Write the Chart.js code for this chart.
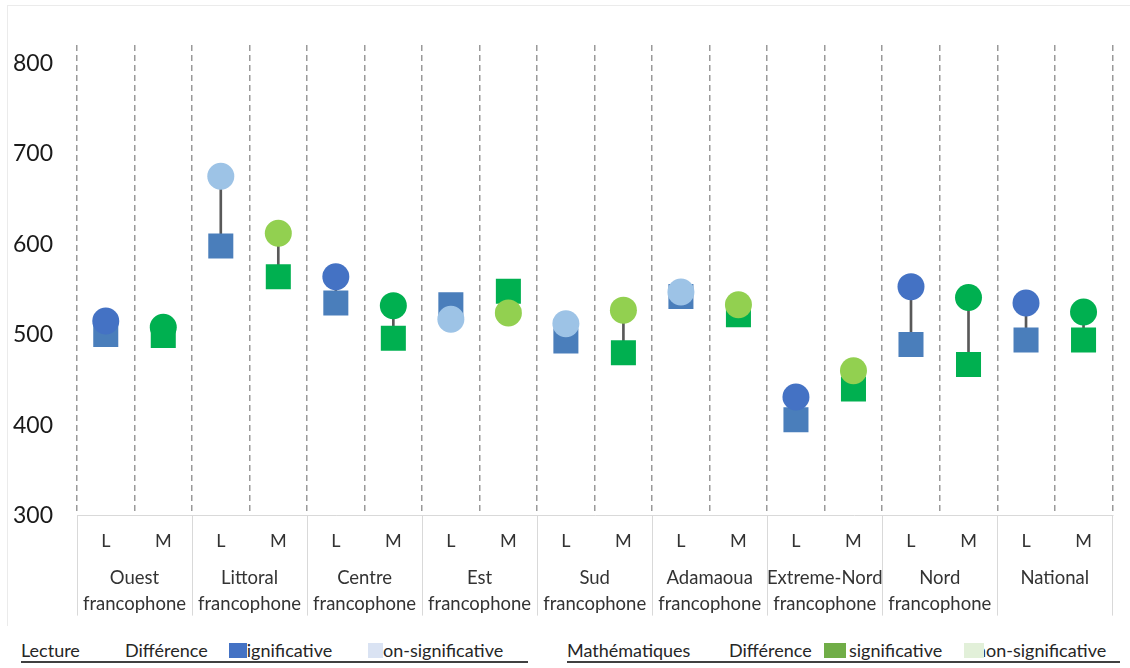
<!DOCTYPE html>
<html>
<head>
<meta charset="utf-8">
<script src="https://cdn.jsdelivr.net/npm/chart.js@4"></script>
<style>
body { margin: 0; background: #fff; font-family: Lato, "Open Sans", sans-serif; }
#cadre { position: absolute; left: 7px; top: 5px; width: 1130px; height: 620px; border-left: 1px solid #ebebeb; border-top: 1px solid #ebebeb; }
#zone { position: absolute; left: 0; top: 0; width: 1130px; height: 630px; }
.leg { position: absolute; top: 640px; height: 21px; border-bottom: 2px solid #404040; font-size: 18px; color: #262626; }
.leg span { position: absolute; top: 0; white-space: nowrap; line-height: 21px; }
.leg i { position: absolute; top: 3px; height: 15px; z-index: 2; }
</style>
</head>
<body>
<div id="cadre"></div>
<div id="zone"><canvas id="grafica"></canvas></div>

<div class="leg" style="left:21px;width:507px">
  <span style="left:0px">Lecture</span>
  <span style="left:104px">Différence</span>
  <i style="left:208px;width:18px;background:#4472c4"></i>
  <span style="left:218px">significative</span>
  <i style="left:347px;width:15px;background:#dae3f3"></i>
  <span style="left:352px">non-significative</span>
</div>
<div class="leg" style="left:567px;width:553px">
  <span style="left:0px">Mathématiques</span>
  <span style="left:162px">Différence</span>
  <i style="left:257px;width:22px;background:#70ad47"></i>
  <span style="left:282px">significative</span>
  <i style="left:397px;width:20px;background:#e2f0d9"></i>
  <span style="left:409px">non-significative</span>
</div>

<script>
// regions et matieres (L = lecture, M = mathematiques)
const regions = [
  ['Ouest', 'francophone'], ['Littoral', 'francophone'], ['Centre', 'francophone'],
  ['Est', 'francophone'], ['Sud', 'francophone'], ['Adamaoua', 'francophone'],
  ['Extreme-Nord', 'francophone'], ['Nord', 'francophone'], ['National']
];
const matieres = ['L','M','L','M','L','M','L','M','L','M','L','M','L','M','L','M','L','M'];

const scoresCarre  = [500, 499, 598, 564, 535, 496, 533, 548, 493, 480, 542, 522, 406, 440, 489, 467, 494, 494];
const scoresCercle = [515, 508, 675, 612, 564, 532, 517, 524, 512, 527, 547, 533, 431, 460, 553, 541, 535, 525];
const significatif = [true, true, false, false, true, true, false, false, false, false, false, false, true, false, true, true, true, true];

const yTicks = [300, 400, 500, 600, 700, 800];

const couleurs = {
  L: { carre: '#4a7ebb', fort: '#4472c4', faible: '#9dc3e6' },
  M: { carre: '#00b050', fort: '#00b050', faible: '#92d050' }
};

var couleurCarre = matieres.map(m => couleurs[m].carre);
var couleurCercle = matieres.map((m, i) => significatif[i] ? couleurs[m].fort : couleurs[m].faible);
var ecarts = scoresCarre.map((v, i) => [v, scoresCercle[i]]);

Chart.defaults.font.family = 'Lato, "Open Sans", sans-serif';

// traits de separation sous l'axe, entre les regions
const separateurs = {
  id: 'separateurs',
  afterDraw(chart) {
    var x = chart.scales.x, area = chart.chartArea, c = chart.ctx;
    c.save();
    c.strokeStyle = '#d9d9d9';
    c.lineWidth = 1;
    for (var i = 0; i <= matieres.length; i += 2) {
      var px = Math.round(x.getPixelForValue(i - 0.5)) + 0.5;
      c.beginPath();
      c.moveTo(px, area.bottom);
      c.lineTo(px, area.bottom + 100);
      c.stroke();
    }
    c.restore();
  }
};

var ctx = document.getElementById('grafica').getContext('2d');
new Chart(ctx, {
  type: 'bar',
  data: {
    labels: matieres,
    datasets: [
      {
        type: 'line', label: 'cercle', data: scoresCercle, showLine: false,
        pointStyle: 'circle', pointRadius: 13.5, pointBorderWidth: 0,
        pointBackgroundColor: couleurCercle, pointBorderColor: couleurCercle, order: 1
      },
      {
        type: 'line', label: 'carre', data: scoresCarre, showLine: false,
        pointStyle: 'rect', pointRadius: 17.7, pointBorderWidth: 0,
        pointBackgroundColor: couleurCarre, pointBorderColor: couleurCarre, order: 2
      },
      {
        type: 'bar', label: 'ecart', data: ecarts,
        backgroundColor: '#595959', barThickness: 2, order: 3
      }
    ]
  },
  options: {
    responsive: true,
    maintainAspectRatio: false,
    animation: false,
    events: [],
    layout: { padding: { left: 0, right: 9, top: 45, bottom: 15 } },
    plugins: { legend: { display: false }, tooltip: { enabled: false } },
    scales: {
      x: {
        offset: true,
        grid: { offset: true, color: '#9a9a9a', lineWidth: 1.5, drawTicks: false },
        border: { display: true, color: '#d9d9d9', width: 1, dash: [6, 4] },
        ticks: { padding: 15, autoSkip: false, maxRotation: 0, color: '#333', font: { size: 18 } }
      },
      x2: {
        type: 'category',
        labels: regions,
        position: 'bottom',
        offset: true,
        grid: { display: false, drawTicks: false },
        border: { display: false },
        ticks: { padding: -2, autoSkip: false, maxRotation: 0, color: '#333', font: { size: 18.5, lineHeight: 1.4 } }
      },
      y: {
        min: 300,
        max: 820,
        afterBuildTicks: function (s) { s.ticks = yTicks.map(v => ({ value: v })); },
        afterFit: function (s) { s.width = 77; },
        grid: { display: false, drawTicks: false },
        border: { display: false },
        ticks: { padding: 24, color: '#1a1a1a', font: { size: 23 } }
      }
    }
  },
  plugins: [separateurs]
});
</script>
</body>
</html>
